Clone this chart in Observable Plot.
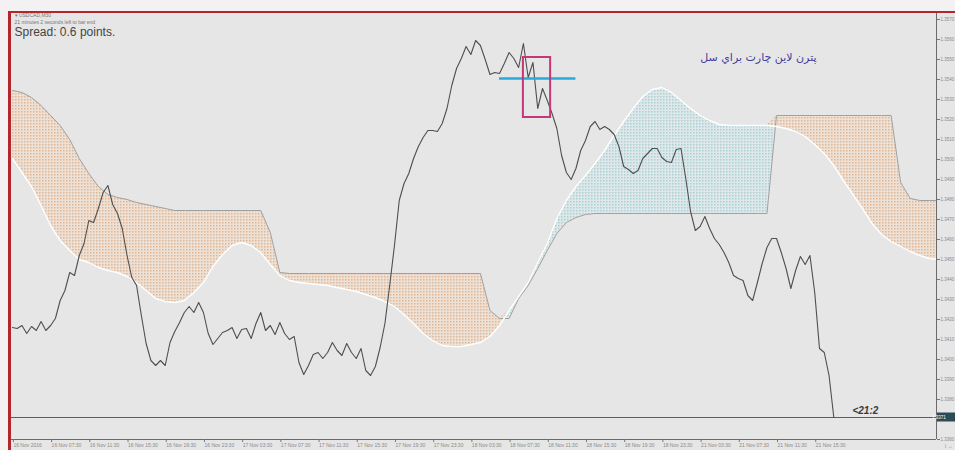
<!DOCTYPE html>
<html><head><meta charset="utf-8">
<script src="https://cdn.jsdelivr.net/npm/d3@7"></script>
<script src="https://cdn.jsdelivr.net/npm/@observablehq/plot@0.6"></script>
<style>
html,body{margin:0;padding:0;background:#e6e6e6;}
#wrap{position:relative;width:955px;height:450px;overflow:hidden;background:#e6e6e6;}
#chart{position:absolute;left:0;top:0;}
#topband{position:absolute;left:0;top:0;width:955px;height:11px;background:#f3f1f1;}
#leftband{position:absolute;left:0;top:0;width:8px;height:450px;background:#f3f1f1;}
#redtop{position:absolute;left:8px;top:11px;width:947px;height:2px;background:#b3262b;}
#redleft{position:absolute;left:8px;top:11px;width:3px;height:439px;background:#b3262b;}
</style></head>
<body><div id="wrap"><div id="chart"></div><div id="topband"></div><div id="leftband"></div><div id="redtop"></div><div id="redleft"></div></div>
<script>
// ---- data ----
const closes = [1.34160,1.34155,1.34170,1.34130,1.34165,1.34145,1.34190,1.34145,1.34170,1.34205,
 1.34295,1.34345,1.34435,1.34420,1.34520,1.34580,1.34695,1.34685,1.34755,1.34835,
 1.34870,1.34775,1.34730,1.34655,1.34520,1.34410,1.34370,1.34220,1.34080,1.33995,
 1.33970,1.33995,1.33970,1.34085,1.34140,1.34185,1.34235,1.34265,1.34235,1.34285,
 1.34235,1.34130,1.34075,1.34105,1.34135,1.34145,1.34160,1.34105,1.34150,1.34155,
 1.34105,1.34180,1.34235,1.34145,1.34170,1.34125,1.34185,1.34130,1.34100,1.34115,
 1.33985,1.33925,1.33970,1.34025,1.34035,1.34005,1.34035,1.34085,1.34045,1.34020,
 1.34080,1.34035,1.34005,1.34055,1.33945,1.33920,1.33965,1.34060,1.34180,1.34370,
 1.34570,1.34795,1.34880,1.34930,1.35005,1.35065,1.35110,1.35145,1.35145,1.35140,
 1.35180,1.35255,1.35370,1.35455,1.35505,1.35565,1.35525,1.35595,1.35570,1.35500,
 1.35425,1.35435,1.35430,1.35480,1.35535,1.35505,1.35460,1.35580,1.35410,1.35485,
 1.35255,1.35355,1.35295,1.35230,1.35155,1.35020,1.34935,1.34900,1.34955,1.35045,
 1.35095,1.35165,1.35190,1.35150,1.35165,1.35150,1.35125,1.35065,1.34965,1.34950,
 1.34930,1.34945,1.35005,1.35030,1.35055,1.35055,1.35010,1.34990,1.34985,1.35050,
 1.35055,1.34905,1.34740,1.34645,1.34665,1.34715,1.34655,1.34605,1.34575,1.34535,
 1.34485,1.34420,1.34405,1.34395,1.34320,1.34295,1.34385,1.34480,1.34560,1.34605,
 1.34605,1.34535,1.34455,1.34355,1.34445,1.34515,1.34475,1.34520,1.34335,1.34055,
 1.34035,1.33920,1.33710];

// Ichimoku cloud, sampled every 2 bars (bar index 0..194)
const cloudIdx = [0,2,4,6,8,10,12,14,16,18,20,22,24,26,28,30,32,34,36,38,40,42,44,46,48,50,52,54,56,58,
 60,62,64,66,68,70,72,74,76,78,80,82,84,86,88,90,92,94,96,98,100,102,104,106,108,110,112,114,116,118,
 120,122,124,126,128,130,132,134,136,138,140,142,144,146,148,150,152,154,156,158,160,162,164,166,168,170,
 172,174,176,178,180,182,184,186,188,190,192,194];
const spanA = [1.35005,1.34935,1.34865,1.34770,1.34670,1.34595,1.34545,1.34500,1.34485,1.34460,
 1.34445,1.34435,1.34415,1.34385,1.34345,1.34305,1.34290,1.34285,1.34295,1.34335,
 1.34385,1.34465,1.34525,1.34570,1.34585,1.34570,1.34535,1.34475,1.34420,1.34395,
 1.34385,1.34380,1.34375,1.34370,1.34360,1.34350,1.34340,1.34325,1.34310,1.34290,
 1.34265,1.34225,1.34180,1.34130,1.34095,1.34070,1.34065,1.34065,1.34075,1.34085,
 1.34115,1.34170,1.34245,1.34315,1.34385,1.34485,1.34580,1.34705,1.34795,1.34865,
 1.34920,1.34980,1.35045,1.35120,1.35190,1.35255,1.35315,1.35350,1.35360,1.35335,
 1.35295,1.35255,1.35220,1.35195,1.35175,1.35170,1.35170,1.35170,1.35170,1.35170,
 1.35165,1.35155,1.35140,1.35115,1.35075,1.35030,1.34970,1.34895,1.34825,1.34755,
 1.34680,1.34625,1.34590,1.34565,1.34540,1.34520,1.34505,1.34500];
const spanB = [1.35345,1.35335,1.35310,1.35270,1.35220,1.35170,1.35100,1.35005,1.34930,1.34865,
 1.34825,1.34810,1.34800,1.34785,1.34775,1.34765,1.34755,1.34745,
 1.34745,1.34745,1.34745,1.34745,1.34745,1.34745,1.34745,1.34745,1.34745,
 1.34635,1.34435,
 1.34430,1.34430,1.34430,1.34430,1.34430,1.34430,1.34430,1.34430,1.34430,1.34430,1.34430,
 1.34430,1.34430,1.34430,1.34430,1.34430,1.34430,1.34430,1.34430,1.34430,1.34430,
 1.34245,1.34205,1.34205,1.34305,1.34370,1.34455,1.34545,1.34630,1.34685,1.34710,1.34725,
 1.34730,1.34730,1.34730,1.34730,1.34730,1.34730,1.34730,1.34730,1.34730,1.34730,
 1.34730,1.34730,1.34730,1.34730,1.34730,1.34730,1.34730,1.34730,1.34730,
 1.35220,1.35220,1.35220,1.35220,1.35220,1.35220,1.35220,1.35220,1.35220,1.35220,1.35220,1.35220,1.35220,
 1.34885,1.34805,1.34795,1.34795,1.34795];

const yTicks = [1.336,1.337,1.338,1.339,1.340,1.341,1.342,1.343,1.344,1.345,1.346,1.347,1.348,1.349,1.350,1.351,1.352,1.353,1.354,1.355,1.356,1.357];
const xTickIdx = [0,8,16,24,32,40,48,56,64,72,80,88,96,104,112,120,128,136,144,152,160,168];
const xTickLabels = ["16 Nov 2016","16 Nov 07:30","16 Nov 11:30","16 Nov 15:30","16 Nov 19:30","16 Nov 23:30",
 "17 Nov 03:30","17 Nov 07:30","17 Nov 11:30","17 Nov 15:30","17 Nov 19:30","17 Nov 23:30",
 "18 Nov 03:30","18 Nov 07:30","18 Nov 11:30","18 Nov 15:30","18 Nov 19:30","18 Nov 23:30",
 "21 Nov 03:30","21 Nov 07:30","21 Nov 11:30","21 Nov 15:30"];

const headerLines = ["\u25BE USDCAD,M30", "21 minutes 2 seconds left to bar end", "Spread: 0.6 points."];
const noteText = ["پترن لاين چارت براي سل"];
const noteX = [156.2], noteY = [1.35510];
const timerText = ["<21:2"];
const timerX = [178.6], timerY = [1.33745];
const levelX1 = [102], levelX2 = [118], levelY = [1.35405];
const boxX1 = [107], boxX2 = [112.7], boxY1 = [1.35210], boxY2 = [1.35510];

// ---- build ----
const xDomain = [-0.4, 193.5];
const yDomain = [1.33600, 1.35735];
const series = closes.map((c, i) => ({i, c}));
const cloud = cloudIdx.map((i, k) => ({i, a: spanA[k], b: spanB[k]}));
const lastPrice = closes[closes.length - 1];
const labelMap = new Map(xTickIdx.map((d, k) => [d, xTickLabels[k]]));
const axisTicks = yTicks.filter(t => Math.abs(t - lastPrice) > 0.0004);
const font = "Liberation Sans, Arial, sans-serif";

const plot = Plot.plot({
  width: 955, height: 450,
  marginLeft: 10, marginRight: 19, marginTop: 12, marginBottom: 11,
  style: {background: "#e6e6e6", fontFamily: font},
  x: {domain: xDomain, axis: null},
  y: {domain: yDomain, axis: null},
  marks: [
    Plot.areaY(cloud, {x: "i", y1: "b", y2: d => Math.max(d.a, d.b), fill: "url(#bullDots)", clip: true}),
    Plot.areaY(cloud, {x: "i", y1: "a", y2: d => Math.max(d.a, d.b), fill: "url(#bearDots)", clip: true}),
    Plot.lineY(cloud, {x: "i", y: "b", stroke: "#a0a0a0", strokeWidth: 1, clip: true}),
    Plot.lineY(cloud, {x: "i", y: "a", stroke: "#ffffff", strokeWidth: 1.4, clip: true}),
    Plot.ruleY([lastPrice], {stroke: "#5c5c5c", strokeWidth: 1}),
    Plot.lineY(series, {x: "i", y: "c", stroke: "#4f4f4f", strokeWidth: 1.1}),
    Plot.ruleX([xDomain[1]], {stroke: "#6a6a6a", strokeWidth: 1}),
    Plot.ruleY([yDomain[0]], {stroke: "#6a6a6a", strokeWidth: 1}),
    Plot.axisY(axisTicks, {anchor: "right", tickFormat: d3.format(".4f"), tickSize: 3, tickPadding: 1,
      fontSize: 4.5, fill: "#8a8a8a", stroke: "#777"}),
    Plot.axisX(xTickIdx, {anchor: "bottom", tickFormat: d => labelMap.get(d), tickSize: 3, tickPadding: 1,
      textAnchor: "start", dx: 1, fontSize: 5, fill: "#8a8a8a", stroke: "#777"}),
    Plot.ruleY(levelY, {x1: levelX1, x2: levelX2, y: d => d, stroke: "#2aa9df", strokeWidth: 2.5}),
    Plot.rect(boxX1.map((d, k) => k), {x1: k => boxX1[k], x2: k => boxX2[k], y1: k => boxY1[k], y2: k => boxY2[k],
      fill: "none", stroke: "#c4387a", strokeWidth: 2}),
    Plot.text(noteText, {x: noteX, y: noteY, text: d => d, fontSize: 11, fill: "#3d3d9e",
      fontFamily: "DejaVu Sans, sans-serif", textAnchor: "middle"}),
    Plot.text(timerText, {x: timerX, y: timerY, text: d => d, fontSize: 10, fill: "#3a3a3a",
      fontStyle: "italic", fontWeight: "bold", textAnchor: "middle"}),
    Plot.text([headerLines[0]], {frameAnchor: "top-left", dx: 4, dy: 1, fontSize: 5, fill: "#777", text: d => d}),
    Plot.text([headerLines[1]], {frameAnchor: "top-left", dx: 4, dy: 8, fontSize: 5, fill: "#777", text: d => d}),
    Plot.text([headerLines[2]], {frameAnchor: "top-left", dx: 4, dy: 15, fontSize: 12, fill: "#444", text: d => d})
  ]
});

// dotted patterns for the cloud
const svg = d3.select(plot);
const defs = svg.insert("defs", ":first-child");
const bear = defs.append("pattern").attr("id", "bearDots").attr("patternUnits", "userSpaceOnUse").attr("width", 3).attr("height", 3);
bear.append("rect").attr("width", 3).attr("height", 3).attr("fill", "#ede1d6");
bear.append("rect").attr("width", 1.5).attr("height", 1.5).attr("fill", "#e0b797");
const bull = defs.append("pattern").attr("id", "bullDots").attr("patternUnits", "userSpaceOnUse").attr("width", 3).attr("height", 3);
bull.append("rect").attr("width", 3).attr("height", 3).attr("fill", "#dfe8e9");
bull.append("rect").attr("width", 1.5).attr("height", 1.5).attr("fill", "#abd0d6");

// current price tag on the price axis
const yPix = plot.scale("y").apply(lastPrice);
const xPix = plot.scale("x").apply(xDomain[1]);
const tag = svg.append("g");
tag.append("rect").attr("x", xPix + 1).attr("y", yPix - 4.5).attr("width", 18).attr("height", 9).attr("fill", "#2e4a57");
tag.append("text").attr("x", xPix + 3).attr("y", yPix).attr("dy", "0.35em").attr("font-size", 4.5)
  .attr("fill", "#ffffff").attr("font-family", font).text(d3.format(".4f")(lastPrice));

document.getElementById("chart").appendChild(plot);
</script></body></html>
